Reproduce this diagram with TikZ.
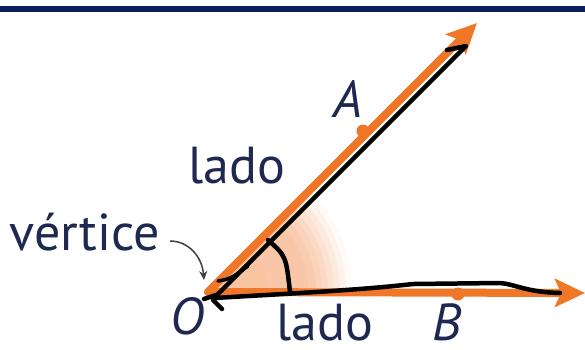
\documentclass[tikz,border=0pt]{standalone}
\usepackage{fontspec}
\setmainfont{PT Sans}
\usetikzlibrary{arrows.meta}
\definecolor{navy}{RGB}{10,32,90}
\definecolor{myorange}{RGB}{240,118,40}
\definecolor{txt}{RGB}{30,40,80}
\tikzset{
  ray/.style={myorange, line width=8pt, line cap=round, -{Stealth[length=30pt,width=28pt,inset=6pt]}},
  pen/.style={black, line width=4.5pt, line cap=round, line join=round},
  lbl/.style={txt, font=\fontsize{52}{52}\selectfont, inner sep=0pt, anchor=base, text depth=0pt},
  ilbl/.style={lbl, font=\fontsize{52}{52}\selectfont\itshape},
  pt/.style={circle, fill=myorange, inner sep=0pt, minimum size=13pt}
}
\begin{document}
\begin{tikzpicture}[x=1pt,y=-1pt]
\useasboundingbox (0,0) rectangle (585,349);
\fill[white] (0,0) rectangle (585,349);
\fill[navy] (0,6) rectangle (585,12);
\coordinate (O) at (208,292);
\coordinate (At) at (477,23);
\coordinate (Bt) at (585,293);
% shaded sector
\foreach \r/\c in {144/4,138/9,132/15,126/21,120/27,114/32,108/37,100/41,60/43}{
  \fill[myorange!\c] (O) -- ++(0:\r) arc[start angle=0,end angle=-45,radius=\r] -- cycle;
}
% rays
\draw[ray] (O) -- (At);
\draw[ray] (O) -- (Bt);
\node[pt] (A) at (363,131) {};
\node[pt] (B) at (458,294) {};
% hand strokes
\draw[pen] (447,50) -- (466,46) -- (215,297);
\draw[pen, line width=3.5pt] (218,281) .. controls (230,279) .. (248,266);
\draw[pen] (268,240) .. controls (286,256) .. (290,292);
\draw[pen] (214,298) .. controls (300,293) and (360,290) .. (413,284) -- (500,283) .. controls (515,284) and (525,292) .. (560,293);
\draw[pen] (204,299) -- (216,295);
\draw[pen] (213,300) -- (222,309);
% labels
\node[lbl] (lado1) at (237,183) {lado};
\node[lbl] (vert) at (85,250) {vértice};
\node[ilbl] (Olab) at (187,334) {O};
\node[lbl] (lado2) at (325,340) {lado};
\node[ilbl] (Blab) at (447,340) {B};
\node[ilbl] (Alab) at (348,117) {A};
\draw[black!75, line width=1.5pt, -{Stealth[length=9pt,width=8pt]}] (170,241) .. controls (188,241) and (202,256) .. (204,280);
\end{tikzpicture}
\end{document}
